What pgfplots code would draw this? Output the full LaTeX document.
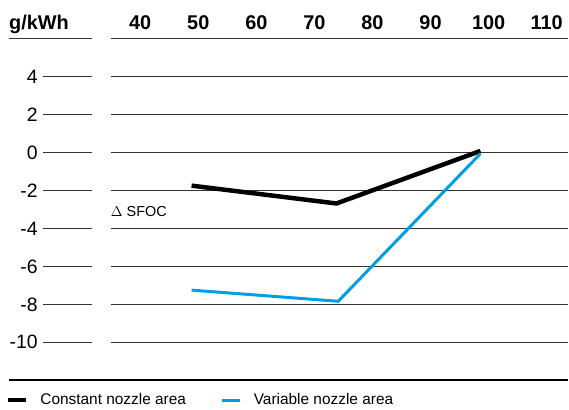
\documentclass[border=0pt]{standalone}
\usepackage{pgfplots}
\pgfplotsset{compat=1.18}
\usepackage{fontspec}
\setmainfont{Liberation Sans}
\definecolor{nozzleblue}{HTML}{009FE3}
\definecolor{gridgray}{HTML}{333333}

\begin{document}
\begin{tikzpicture}
% frame of the picture: 569 x 410
\path (-111bp,-29bp) rectangle (458bp,381bp);
\begin{axis}[
    at={(0,0)}, anchor=south west,
    scale only axis,
    width=458bp, height=342bp,
    xmin=34.93, xmax=113.63,
    ymin=-12, ymax=6,
    clip=false,
    axis line style={draw=none},
    tick style={draw=none},
    xtick={40,50,...,110},
    ytick={-10,-8,...,4},
    xticklabel pos=upper,
    ymajorgrids,
    grid style={gridgray, line width=1.1bp},
    /pgf/number format/assume math mode=true,
    xticklabel style={font=\fontsize{20}{22}\selectfont\bfseries, anchor=south, inner sep=0pt, yshift=9bp},
    yticklabel style={font=\fontsize{19.5}{22}\selectfont, anchor=east, inner sep=0pt, xshift=-73bp},
    legend style={at={(rel axis cs:-0.2293,-0.0585)}, anchor=west, draw=none, fill=none,
        inner sep=0pt, outer sep=0pt, legend columns=2,
        font=\fontsize{15.5}{18}\selectfont,
        nodes={inner sep=0pt},
        /tikz/every odd column/.append style={column sep=12bp},
        /tikz/every even column/.append style={column sep=35bp}},
    legend cell align=left,
    legend image code/.code={\draw[#1] (0bp,0bp) -- (18bp,0bp);},
]
\addplot[black, line width=4.5bp, line join=miter] coordinates {
    (48.85,-1.74) (73.8,-2.68) (98.6,0.09)
};
\addlegendentry{Constant nozzle area}
\addplot[nozzleblue, line width=3bp, line join=miter] coordinates {
    (48.85,-7.25) (74.1,-7.84) (98.6,-0.05)
};
\addlegendentry{Variable nozzle area}
\node[anchor=west, inner sep=0pt, font=\fontsize{14.5}{16}\selectfont] at (axis cs:34.93,-3.1) {$\Delta$ SFOC};
\end{axis}
% header line and left pieces of the grid
\draw[gridgray, line width=1.1bp] (0bp,342bp) -- (458bp,342bp);
\draw[gridgray, line width=1.1bp] (-102bp,342bp) -- (-19bp,342bp);
\foreach \v in {-10,-8,...,4} {
  \draw[gridgray, line width=1.1bp] (-68bp,{(\v+12)*19bp}) -- (-19bp,{(\v+12)*19bp});
}
% bottom line
\draw[black, line width=2.5bp] (-102bp,0bp) -- (458bp,0bp);
\node[anchor=base west, inner sep=0pt, font=\fontsize{20}{22}\selectfont\bfseries] at (-102bp,351bp) {g/kWh};
\end{tikzpicture}
\end{document}
